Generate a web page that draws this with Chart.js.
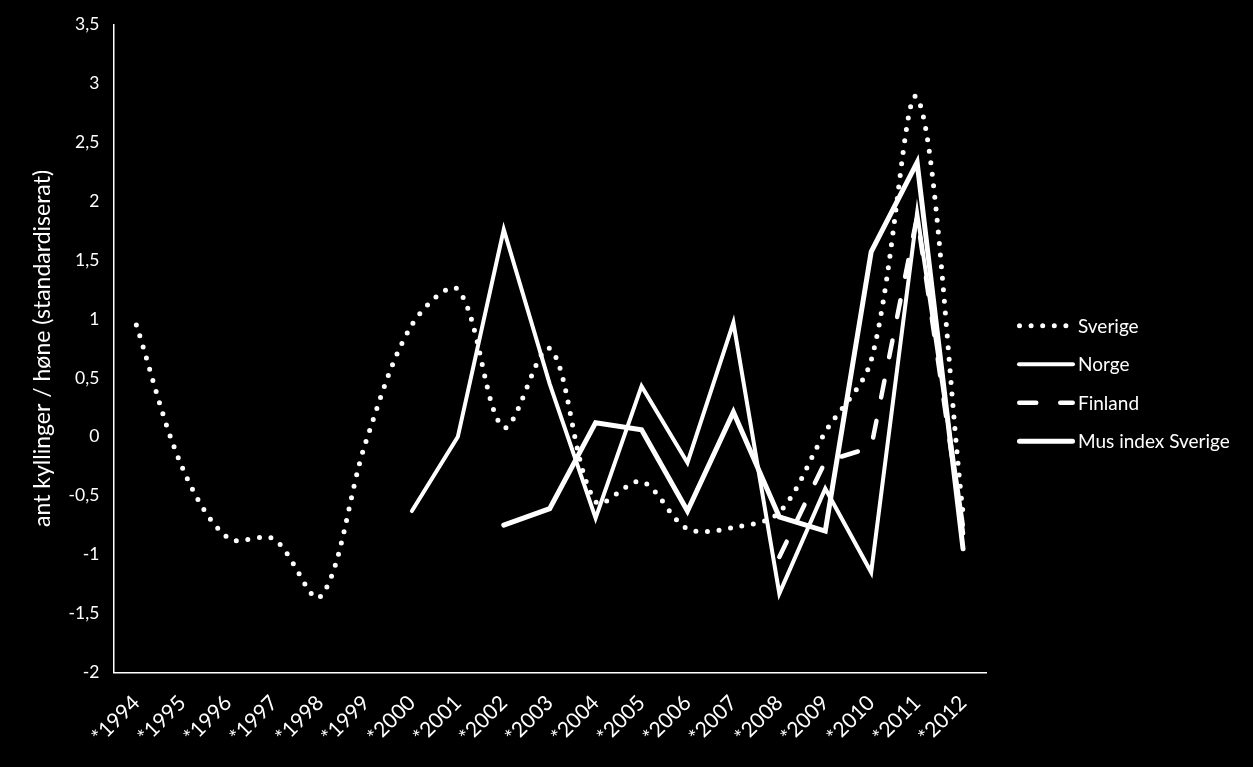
<!DOCTYPE html>
<html><head><meta charset="utf-8">
<script src="https://cdn.jsdelivr.net/npm/chart.js@4/dist/chart.umd.min.js"></script>
<style>html,body{margin:0;padding:0;background:#000;overflow:hidden}#wrap{width:1253px;height:767px;position:relative}</style>
</head><body><div id="wrap"><canvas id="c" width="1253" height="767"></canvas></div>
<script>
const years = ['*1994','*1995','*1996','*1997','*1998','*1999','*2000','*2001','*2002','*2003','*2004','*2005','*2006','*2007','*2008','*2009','*2010','*2011','*2012'];
const sverige = [0.95,-0.26,-0.86,-0.87,-1.36,-0.04,0.95,1.25,0.08,0.75,-0.55,-0.38,-0.78,-0.77,-0.64,0.04,0.65,2.88,-0.65];
const norge = [null,null,null,null,null,null,-0.63,0.0,1.76,0.45,-0.69,0.43,-0.22,0.97,-1.33,-0.44,-1.15,1.90,-0.75];
const finland = [null,null,null,null,null,null,null,null,null,null,null,null,null,null,-1.02,-0.21,-0.09,1.87,-0.82];
const musIndex = [null,null,null,null,null,null,null,null,-0.75,-0.61,0.12,0.06,-0.63,0.21,-0.68,-0.80,1.57,2.33,-0.95];
const seriesNames = ['Sverige','Norge','Finland','Mus index Sverige'];
const yTitle = 'ant kyllinger / høne (standardiserat)';

const FONT = 'Lato';

const sideLegend = {
  id: 'sideLegend',
  afterDraw(chart) {
    const {ctx, chartArea} = chart;
    const x0 = chartArea.right + 31, len = 58;
    const cy = (chart.height) / 2, gap = 38.5;
    chart.data.datasets.forEach((ds, i) => {
      const y = cy + (i - 1.5) * gap;
      ctx.save();
      ctx.strokeStyle = ds.borderColor;
      ctx.lineWidth = ds.borderWidth;
      ctx.lineCap = 'round';
      ctx.setLineDash(ds.borderDash || []);
      ctx.beginPath();
      ctx.moveTo(x0 + ds.borderWidth / 2, y);
      ctx.lineTo(x0 + len - ds.borderWidth / 2, y);
      ctx.stroke();
      ctx.setLineDash([]);
      ctx.fillStyle = '#fff';
      ctx.font = '19px ' + FONT;
      ctx.textBaseline = 'middle';
      ctx.textAlign = 'left';
      ctx.fillText(ds.label, x0 + len + 3, y + 1);
      ctx.restore();
    });
  }
};

Chart.defaults.font.family = FONT;
Chart.defaults.font.size = 18;
Chart.defaults.color = '#fff';

new Chart(document.getElementById('c'), {
  type: 'line',
  data: {
    labels: years,
    datasets: [
      {label: seriesNames[0], data: sverige, borderColor: '#fff', borderWidth: 5, borderDash: [0, 11.6], borderCapStyle: 'round', tension: 0.33, pointRadius: 0, spanGaps: false},
      {label: seriesNames[1], data: norge, borderColor: '#fff', borderWidth: 4, borderCapStyle: 'round', tension: 0, pointRadius: 0},
      {label: seriesNames[2], data: finland, borderColor: '#fff', borderWidth: 4.5, borderDash: [17, 24], borderCapStyle: 'round', tension: 0, pointRadius: 0},
      {label: seriesNames[3], data: musIndex, borderColor: '#fff', borderWidth: 5, borderCapStyle: 'round', tension: 0, pointRadius: 0}
    ]
  },
  options: {
    responsive: false,
    animation: false,
    devicePixelRatio: 1,
    layout: {padding: {top: 10, right: 267, bottom: 0, left: 29}},
    plugins: {legend: {display: false}, tooltip: {enabled: false}},
    scales: {
      x: {
        offset: true,
        grid: {display: false, drawTicks: false},
        border: {display: true, color: '#fff', width: 1.5},
        ticks: {color: '#fff', minRotation: 45, maxRotation: 45, padding: 18, autoSkip: false, font: {size: 21}}
      },
      y: {
        min: -2, max: 3.5,
        grid: {display: false, drawTicks: false},
        border: {display: true, color: '#fff', width: 1.5},
        ticks: {color: '#fff', stepSize: 0.5, padding: 14, font: {size: 17.5},
          callback: v => String(v).replace('.', ',')},
        title: {display: true, text: yTitle, color: '#fff', font: {size: 23}, padding: {top: 0, bottom: -2}}
      }
    }
  },
  plugins: [sideLegend]
});
</script>
</body></html>
